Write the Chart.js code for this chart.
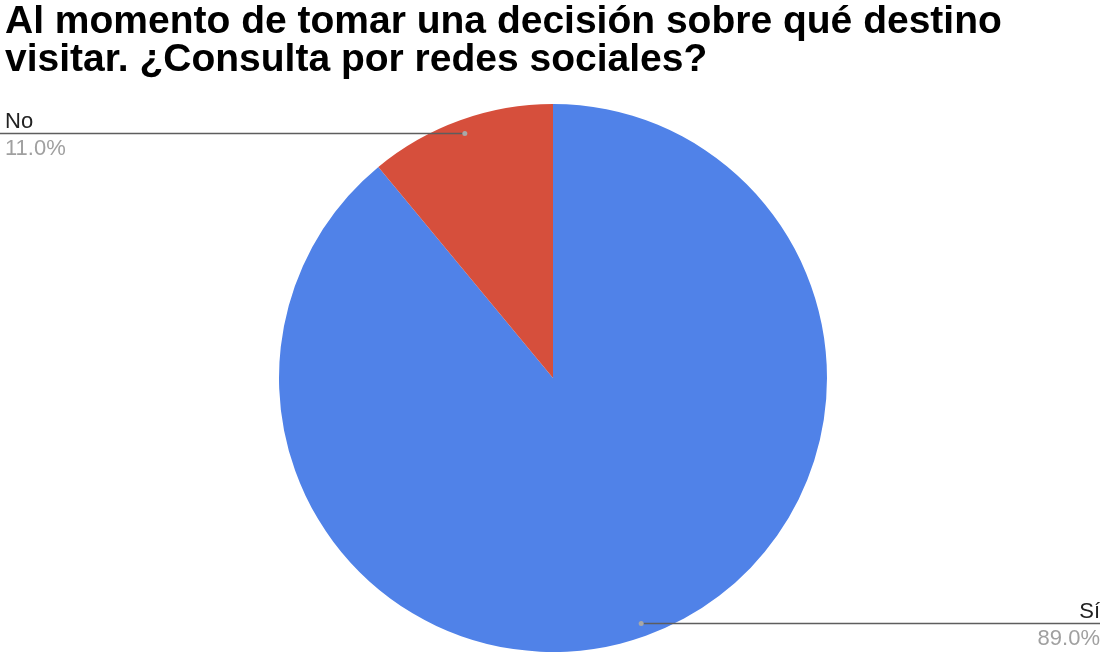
<!DOCTYPE html>
<html lang="es">
<head>
    <meta charset="UTF-8">
    <title>Consulta por redes sociales</title>
    <script src="https://cdn.jsdelivr.net/npm/chart.js@4"></script>
    <style>
        body {
            margin: 0;
            background: #fff;
            font-family: "Liberation Sans", Arial, sans-serif;
        }
        #wrap {
            position: relative;
            width: 1103px;
            height: 652px;
            overflow: hidden;
        }
        h1 {
            position: absolute;
            left: 5px;
            top: 1px;
            margin: 0;
            font-size: 39px;
            line-height: 38px;
            font-weight: bold;
            color: #000;
            z-index: 2;
            white-space: nowrap;
        }
        canvas {
            position: absolute;
            left: 0;
            top: 0;
        }
    </style>
</head>
<body>
<div id="wrap">
    <h1>Al momento de tomar una decisión sobre qué destino<br>visitar. ¿Consulta por redes sociales?</h1>
    <canvas id="pie" width="1103" height="652"></canvas>
</div>

<script>
    const labels = ['Sí', 'No'];
    const values = [89.0, 11.0];
    const colors = ['#5082e8', '#d64f3c'];

    // leader lines run from a dot inside each slice to the page edge
    const leaderLabels = {
        id: 'leaderLabels',
        afterDatasetsDraw(chart) {
            const ctx = chart.ctx;
            const meta = chart.getDatasetMeta(0);
            const total = values.reduce((a, b) => a + b, 0);
            meta.data.forEach((arc, i) => {
                const mid = (arc.startAngle + arc.endAngle) / 2;
                const r = arc.outerRadius * 0.95;
                const x = arc.x + Math.cos(mid) * r;
                const y = Math.round(arc.y + Math.sin(mid) * r) + 0.5;
                const right = Math.cos(mid) >= 0;
                const edge = right ? chart.width - 3 : 0;

                ctx.save();
                ctx.strokeStyle = '#5e5e5e';
                ctx.lineWidth = 1.4;
                ctx.beginPath();
                ctx.moveTo(x, y);
                ctx.lineTo(edge, y);
                ctx.stroke();

                ctx.fillStyle = '#a8a8a8';
                ctx.beginPath();
                ctx.arc(x, y, 2.5, 0, Math.PI * 2);
                ctx.fill();

                const tx = right ? edge : 5;
                ctx.textAlign = right ? 'right' : 'left';
                ctx.font = '22px "Liberation Sans", Arial, sans-serif';
                ctx.fillStyle = '#222';
                ctx.textBaseline = 'alphabetic';
                ctx.fillText(labels[i], tx, y - 6);
                ctx.fillStyle = '#a0a0a0';
                ctx.textBaseline = 'top';
                ctx.fillText((values[i] / total * 100).toFixed(1) + '%', tx, y + 4);
                ctx.restore();
            });
        }
    };

    new Chart(document.getElementById('pie'), {
        type: 'pie',
        data: {
            labels: labels,
            datasets: [{
                data: values,
                backgroundColor: colors,
                borderWidth: 0
            }]
        },
        options: {
            responsive: false,
            animation: false,
            layout: {
                padding: { top: 104, bottom: 0, left: 279, right: 276 }
            },
            plugins: {
                legend: { display: false },
                tooltip: { enabled: false }
            }
        },
        plugins: [leaderLabels]
    });
</script>
</body>
</html>
